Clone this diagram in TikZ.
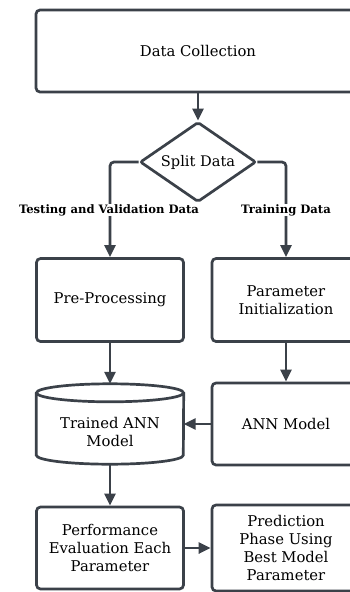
\documentclass[tikz,border=0pt]{standalone}
\usepackage{fontspec}
\setmainfont{DejaVu Serif}
\usetikzlibrary{arrows.meta,shapes.geometric}
\definecolor{edgegray}{HTML}{3B4149}
\begin{document}
\begin{tikzpicture}[x=1pt, y=-1pt, >={Triangle[length=12pt,width=11pt]},
  line/.style={draw=edgegray, line width=2.7pt},
  box/.style={line, rounded corners=4pt, minimum width=147pt, minimum height=83pt,
    align=center, inner sep=0pt, font=\fontsize{14.8}{17.8}\selectfont},
  decision/.style={diamond, line, rounded corners=2pt, minimum width=116pt,
    minimum height=80pt, aspect=1.45, inner sep=0pt, font=\fontsize{14.6}{16}\selectfont},
  lbl/.style={font=\bfseries\fontsize{11.6}{13}\selectfont, fill=white, inner sep=0.5pt}]
\useasboundingbox (0,0) rectangle (350,592);
\clip (0,0) rectangle (350,592);
\fill[white] (0,0) rectangle (350,592);

\node[box, minimum width=324pt, minimum height=82pt] (datacol) at (198,51) {Data Collection};
\node[decision] (split) at (198,162) {Split Data};
\node[box] (prep) at (110,300) {Pre-Processing};
\node[box, minimum width=148pt] (param) at (286,300) {Parameter\\Initialization};
% cylinder: drawn by hand round an empty node
\node[minimum width=147pt, minimum height=80pt, inner sep=0pt] (trained) at (110,424) {};
\draw[line] ([yshift=-9pt]trained.north west) -- ([yshift=9pt]trained.south west)
  arc[start angle=180, end angle=360, x radius=73.5pt, y radius=9pt]
  -- ([yshift=-9pt]trained.north east);
\draw[line] ([yshift=-9pt]trained.north) ellipse[x radius=73.5pt, y radius=9pt];
\node[align=center, inner sep=0pt, font=\fontsize{14.8}{17.8}\selectfont] (trainedtxt) at (110,432) {Trained ANN\\Model};
\node[box, minimum width=148pt, minimum height=82pt] (annmodel) at (286,424) {ANN Model};
\node[box, minimum height=82pt] (perf) at (110,548) {Performance\\Evaluation Each\\Parameter};
\node[box, minimum width=148pt, minimum height=86pt] (pred) at (286,548) {Prediction\\Phase Using\\Best Model\\Parameter};

\draw[line, ->] (datacol) -- (split);
\draw[line, ->, rounded corners=4pt] (split.west) -| (prep.north);
\draw[line, ->, rounded corners=4pt] (split.east) -| (param.north);
\node[lbl] (testlbl) at (109,210) {Testing and Validation Data};
\node[lbl] (trainlbl) at (286,210) {Training Data};
\draw[line, ->] (prep) -- (trained.north);
\draw[line, ->] (param) -- (annmodel);
\draw[line, ->] (annmodel.west) -- (trained.east);
\draw[line, ->] (trained.south) -- (perf);
\draw[line, ->] (perf) -- (pred);
\end{tikzpicture}
\end{document}
